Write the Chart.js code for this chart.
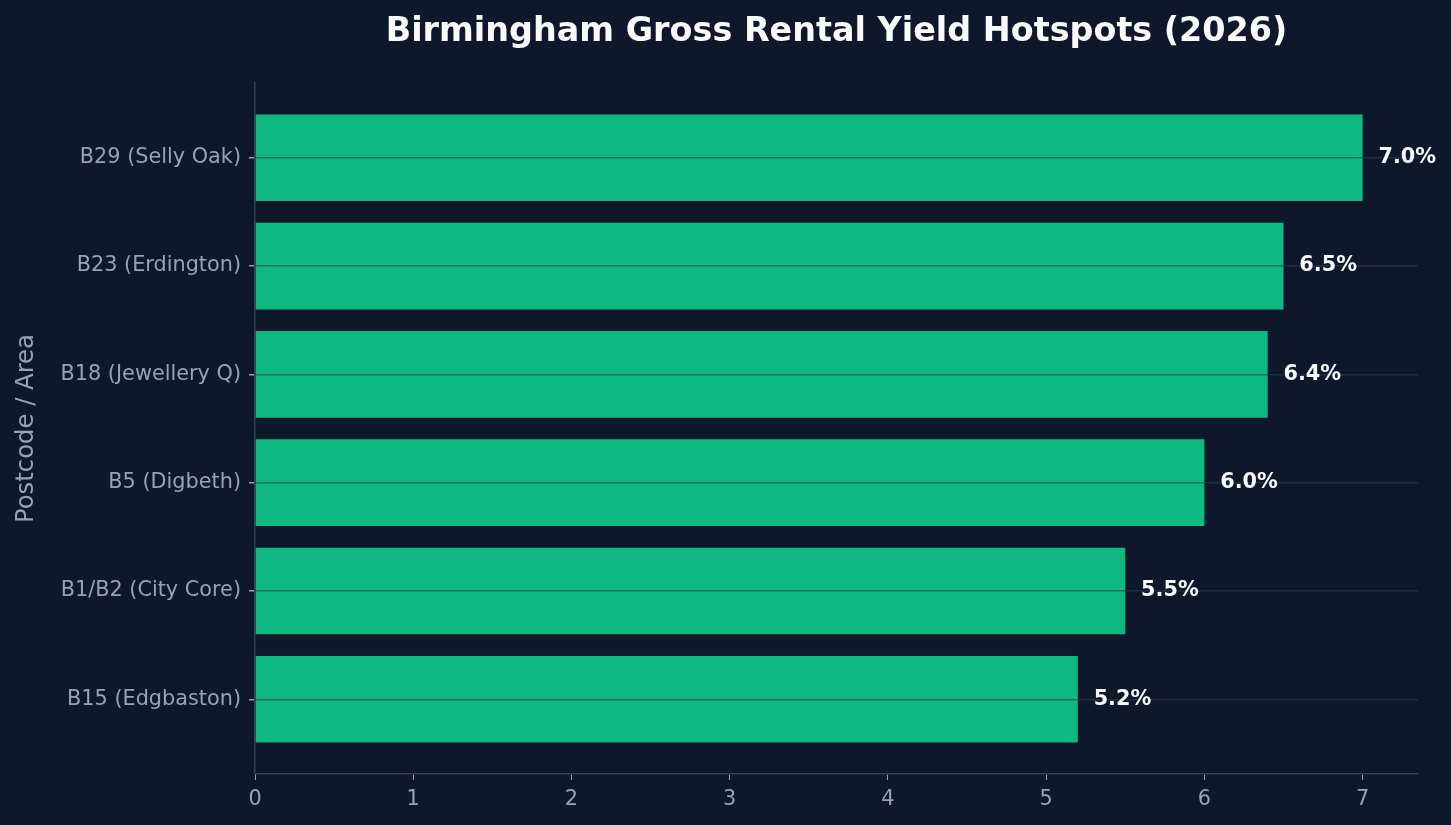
<!DOCTYPE html>
<html>
<head>
<meta charset="utf-8">
<script src="https://cdn.jsdelivr.net/npm/chart.js@4.4.1/dist/chart.umd.min.js"></script>
<style>
  html, body { margin: 0; padding: 0; background: #0f172a; }
  #wrap { width: 1451px; height: 825px; }
</style>
</head>
<body>
<div id="wrap"><canvas id="chart" width="1451" height="825"></canvas></div>
<script>
// categories top to bottom, yields in %
const areas = ['B29 (Selly Oak)', 'B23 (Erdington)', 'B18 (Jewellery Q)', 'B5 (Digbeth)', 'B1/B2 (City Core)', 'B15 (Edgbaston)']
const yields = [7.0, 6.5, 6.4, 6.0, 5.5, 5.2]
const xTicks = [0, 1, 2, 3, 4, 5, 6, 7]

const bg = '#0f172a'
const muted = '#94a3b8'
const spine = '#334155'

// dark background
const bgPlugin = {
  id: 'bg',
  beforeDraw(chart) {
    const c = chart.ctx
    c.save()
    c.fillStyle = bg
    c.fillRect(0, 0, chart.width, chart.height)
    c.restore()
  }
}

// value labels to the right of each bar
const valueLabels = {
  id: 'valueLabels',
  afterDraw(chart) {
    const c = chart.ctx
    const xs = chart.scales.x, ys = chart.scales.y
    c.save()
    c.font = 'bold 20.8px "DejaVu Sans"'
    c.fillStyle = '#f8fafc'
    c.textAlign = 'left'
    c.textBaseline = 'middle'
    yields.forEach((v, i) => {
      c.fillText(v.toFixed(1) + '%', xs.getPixelForValue(v + 0.1), ys.getPixelForValue(i))
    })
    c.restore()
  }
}

new Chart(document.getElementById('chart'), {
  type: 'bar',
  data: {
    datasets: [{
      data: yields.map((v, i) => ({ x: v, y: i })),
      backgroundColor: '#10b981',
      borderWidth: 0,
      barPercentage: 0.8,
      categoryPercentage: 1
    }]
  },
  options: {
    indexAxis: 'y',
    responsive: false,
    animation: false,
    layout: { padding: { left: 0, right: 33, top: 0, bottom: 0 } },
    plugins: {
      legend: { display: false },
      tooltip: { enabled: false },
      title: {
        display: true,
        fullSize: false,
        text: 'Birmingham Gross Rental Yield Hotspots (2026)',
        color: '#f8fafc',
        font: { family: 'DejaVu Sans', size: 33.4, weight: 'bold' },
        padding: { top: 12, bottom: 31 }
      }
    },
    scales: {
      x: {
        type: 'linear',
        position: 'bottom',
        min: 0,
        max: 7.35,
        afterBuildTicks: (s) => { s.ticks = xTicks.map(v => ({ value: v })) },
        afterFit: (s) => { s.height = 51 },
        grid: { display: true, drawOnChartArea: false, drawTicks: true, tickLength: 6, tickColor: muted },
        border: { display: true, color: spine, width: 1.5 },
        ticks: { color: muted, font: { family: 'DejaVu Sans', size: 20.8 }, padding: 7 }
      },
      y: {
        type: 'linear',
        reverse: true,
        offset: false,
        min: -0.69,
        max: 5.69,
        afterBuildTicks: (s) => { s.ticks = areas.map((_, i) => ({ value: i })) },
        afterFit: (s) => { s.width = 255 },
        // grid drawn above the bars, like the source
        grid: { z: 1, offset: false, color: 'rgba(40,60,80,0.6)', lineWidth: 1.5, tickLength: 6, tickColor: muted },
        border: { display: true, color: spine, width: 1.5, z: 1 },
        ticks: {
          color: muted,
          font: { family: 'DejaVu Sans', size: 20.8 },
          padding: 8,
          callback: (v) => areas[v]
        },
        title: {
          display: true,
          text: 'Postcode / Area',
          color: muted,
          font: { family: 'DejaVu Sans', size: 24.3 },
          padding: { top: 12, bottom: 0 }
        }
      }
    }
  },
  plugins: [bgPlugin, valueLabels]
})
</script>
</body>
</html>
